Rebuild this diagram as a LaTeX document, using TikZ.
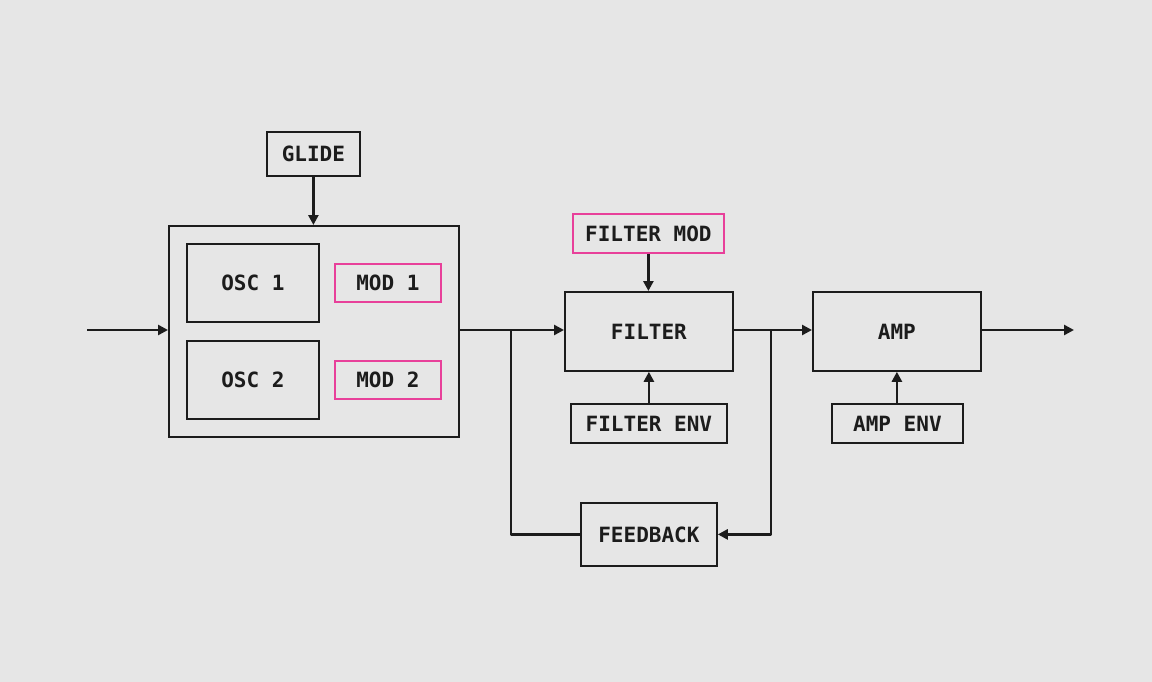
\documentclass[tikz,border=0pt]{standalone}
\usepackage{fontspec}
\setmonofont{DejaVu Sans Mono}
\usetikzlibrary{arrows.meta}
\definecolor{bg}{HTML}{E6E6E6}
\definecolor{ink}{HTML}{1C1C1C}
\definecolor{pinkc}{HTML}{E8409A}
\begin{document}
\begin{tikzpicture}[x=1pt,y=-1pt,
  box/.style={draw=ink,line width=1.8pt,inner sep=0pt,anchor=north west,
    font=\ttfamily\bfseries\fontsize{21}{25}\selectfont,text=ink},
  pbox/.style={box,draw=pinkc},
  conn/.style={draw=ink,line width=2.8pt},
  arr/.style={conn,-{Triangle[length=10pt,width=10pt]}}]
\fill[bg] (0,0) rectangle (1152,682);
\useasboundingbox (0,0) rectangle (1152,682);
% nodes
\node[box,minimum width=93pt,minimum height=44pt] (glide) at (266,131) {GLIDE};
\node[box,minimum width=290pt,minimum height=211pt] (osc) at (168,225) {};
\node[box,minimum width=132pt,minimum height=78pt] (osc1) at (186,243) {OSC 1};
\node[box,minimum width=132pt,minimum height=78pt] (osc2) at (186,340) {OSC 2};
\node[pbox,minimum width=106pt,minimum height=38pt] (mod1) at (334,263) {MOD 1};
\node[pbox,minimum width=106pt,minimum height=38pt] (mod2) at (334,360) {MOD 2};
\node[pbox,minimum width=151pt,minimum height=39pt] (fmod) at (572,213) {FILTER MOD};
\node[box,minimum width=168pt,minimum height=79pt] (filter) at (564,291) {FILTER};
\node[box,minimum width=156pt,minimum height=39pt] (fenv) at (570,403) {FILTER ENV};
\node[box,minimum width=136pt,minimum height=63pt] (fb) at (580,502) {FEEDBACK};
\node[box,minimum width=168pt,minimum height=79pt] (amp) at (812,291) {AMP};
\node[box,minimum width=131pt,minimum height=39pt] (aenv) at (831,403) {AMP ENV};
% coordinates
\coordinate (in) at (87,330);
\coordinate (out) at (1074,330);
\coordinate (sp1) at (511,330);
\coordinate (sp2) at (771,330);
% connectors
\draw[arr] (in) -- (in -| osc.west);
\draw[arr] (glide.south) -- (osc.north -| glide.south);
\draw[arr] (osc.east |- sp1) -- (filter.west |- sp1);
\draw[arr] (fmod.south) -- (fmod.south |- filter.north);
\draw[arr] (fenv.north -| filter.south) -- (filter.south);
\draw[arr] (filter.east |- sp2) -- (amp.west |- sp2);
\draw[arr] (aenv.north -| amp.south) -- (amp.south);
\draw[arr] (amp.east |- out) -- (out);
\draw[conn,line join=round] (sp1) -- (sp1 |- fb.west) -- (fb.west);
\draw[arr,line join=round] (sp2) -- (sp2 |- fb.east) -- (fb.east);
\end{tikzpicture}
\end{document}
